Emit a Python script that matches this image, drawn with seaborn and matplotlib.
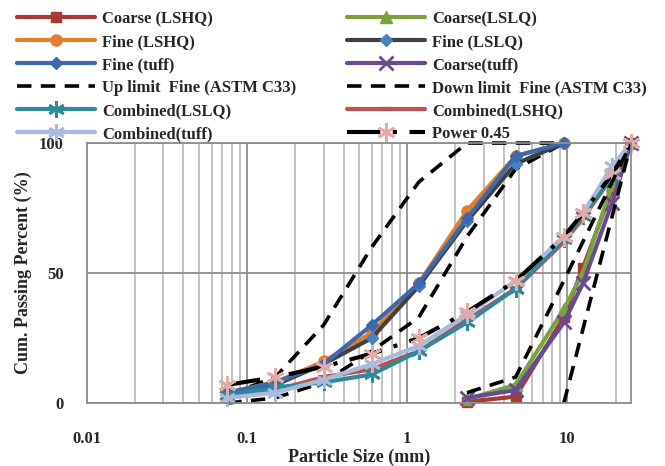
import matplotlib
matplotlib.use("Agg")
import matplotlib.pyplot as plt
import seaborn as sns
from matplotlib.ticker import LogLocator, NullFormatter, FixedLocator

# sieve sizes (mm)
sizes_all = [0.075, 0.15, 0.3, 0.6, 1.18, 2.36, 4.75, 9.5, 12.5, 19, 25]
sizes_fine = [0.075, 0.15, 0.3, 0.6, 1.18, 2.36, 4.75, 9.5]
sizes_coarse = [2.36, 4.75, 9.5, 12.5, 19, 25]

# cumulative passing (%)
coarse_lshq = [0.5, 2.5, 33, 52, 82, 100]
coarse_lslq = [1.5, 7, 36, 50, 84, 100]
coarse_tuff = [2, 5, 31, 46, 77, 100]
fine_lshq = [4, 8, 16, 27, 46, 74, 95, 100]
fine_lslq = [4, 7, 15, 25, 45, 70, 92, 100]
fine_tuff = [4, 8, 15, 30, 46, 71, 95, 100]
up_fine = [3, 10, 30, 60, 85, 100, 100, 100]
down_fine = [0, 2, 8, 20, 33, 64, 90, 100]
comb_lslq = [3, 6, 8, 11, 20, 31, 44, 63, 72, 87, 100]
comb_lshq = [3, 5, 10, 13, 20, 32, 44, 62, 71, 87, 100]
comb_tuff = [2, 4, 9, 15, 22, 34, 47, 64, 73, 91, 100]
power_045 = [7, 10, 14, 19, 25, 35, 47, 64, 73, 88, 100]

# coarse grading limits (no legend entry)
up_coarse_x = [2.36, 4.75, 9.5, 25]
up_coarse = [4, 10, 47, 100]
down_coarse_x = [9.5, 25]
down_coarse = [0, 100]

sns.set_style("white")
plt.rcParams['font.family'] = ['Liberation Serif', 'DejaVu Serif']
plt.rcParams['font.weight'] = 'bold'

fig = plt.figure(figsize=(6.65, 4.66), dpi=100)
ax = fig.add_axes([0.131, 0.135, 0.818, 0.558])

lw = 3.0
dash = (0, (4, 2.6))
star = (6, 2, 0)
series = [
    # label, x, y, color, style kwargs
    ("Coarse (LSHQ)", sizes_coarse, coarse_lshq, "#A83A33", dict(marker="s", markersize=7)),
    ("Fine (LSHQ)", sizes_fine, fine_lshq, "#E0802F", dict(marker="o", markersize=8)),
    ("Fine (tuff)", sizes_fine, fine_tuff, "#3C68AC", dict(marker="D", markersize=6)),
    ("Up limit  Fine (ASTM C33)", sizes_fine, up_fine, "black", dict(linestyle=dash, lw=2.6)),
    ("Combined(LSLQ)", sizes_all, comb_lslq, "#2E8A9B", dict(marker=star, markersize=12, mew=2)),
    ("Combined(tuff)", sizes_all, comb_tuff, "#A9BBDD", dict(marker=star, markersize=12, mew=2)),
    ("Coarse(LSLQ)", sizes_coarse, coarse_lslq, "#7AA33E", dict(marker="^", markersize=8)),
    ("Fine (LSLQ)", sizes_fine, fine_lslq, "#404040", dict(marker="D", markersize=6, mfc="#4A80C4", mec="#4A80C4")),
    ("Coarse(tuff)", sizes_coarse, coarse_tuff, "#674A91", dict(marker="x", markersize=10, mew=2)),
    ("Down limit  Fine (ASTM C33)", sizes_fine, down_fine, "black", dict(linestyle=dash, lw=2.6)),
    ("Combined(LSHQ)", sizes_all, comb_lshq, "#C0504D", dict(marker="_", markersize=8, mew=3)),
    ("Power 0.45", sizes_all, power_045, "black", dict(linestyle=(0, (8, 3, 1, 3)), marker=star,
                                                     markersize=13, mew=2, mec="#E3AAA8", mfc="#E3AAA8")),
]

# draw order similar to the original (limits behind, power on top)
draw_order = [3, 9, 0, 6, 8, 1, 7, 2, 10, 4, 5, 11]
lines = {}
for i in draw_order:
    label, x, y, color, kw = series[i]
    kw = dict(kw)
    kw.setdefault("lw", lw)
    kw.setdefault("mec", color)
    kw.setdefault("mfc", color)
    kw.setdefault("mew", 1)
    sns.lineplot(x=x, y=y, ax=ax, color=color, label=label, clip_on=False,
                 solid_capstyle="round", **kw)
    lines[label] = ax.get_lines()[-1]

sns.lineplot(x=up_coarse_x, y=up_coarse, ax=ax, color="black", linestyle=dash, lw=2.6)
sns.lineplot(x=down_coarse_x, y=down_coarse, ax=ax, color="black", linestyle=dash, lw=2.6)
ax.get_legend().remove()

ax.set_xscale("log")
ax.set_xlim(0.01, 25)
ax.set_ylim(0, 100)
ax.xaxis.set_major_locator(FixedLocator([0.01, 0.1, 1, 10]))
ax.xaxis.set_minor_locator(LogLocator(base=10, subs=range(2, 10)))
ax.xaxis.set_minor_formatter(NullFormatter())
ax.set_xticks([0.01, 0.1, 1, 10])
ax.set_xticklabels(["0.01", "0.1", "1", "10"])
ax.set_yticks([0, 50, 100])
ax.grid(True, which="major", color="#8E8E8E", lw=1.3)
ax.grid(True, which="minor", axis="x", color="#BDBDBD", lw=1.3)
ax.set_axisbelow(True)
for s in ax.spines.values():
    s.set_color("#8E8E8E")
    s.set_linewidth(1.3)
ax.tick_params(axis="y", which="major", direction="out", length=5, color="#8E8E8E",
               labelsize=12, pad=12)
ax.tick_params(axis="x", which="major", direction="out", length=0, labelsize=12, pad=20)
ax.tick_params(axis="x", which="minor", length=0)

ax.set_xlabel("Particle Size (mm)", fontsize=13, fontweight="bold", labelpad=1)
ax.set_ylabel("Cum. Passing Percent (%)", fontsize=13, fontweight="bold", labelpad=5)

order = [s[0] for s in series]
fig.legend([lines[l] for l in order], order, loc="upper left", bbox_to_anchor=(0.003, 1.008),
           ncol=2, frameon=False, handlelength=4.7, handletextpad=0.42, columnspacing=3.0,
           labelspacing=0.42, prop={"family": "Liberation Serif", "weight": "bold", "size": 12})

fig.savefig("out.png", dpi=100)
